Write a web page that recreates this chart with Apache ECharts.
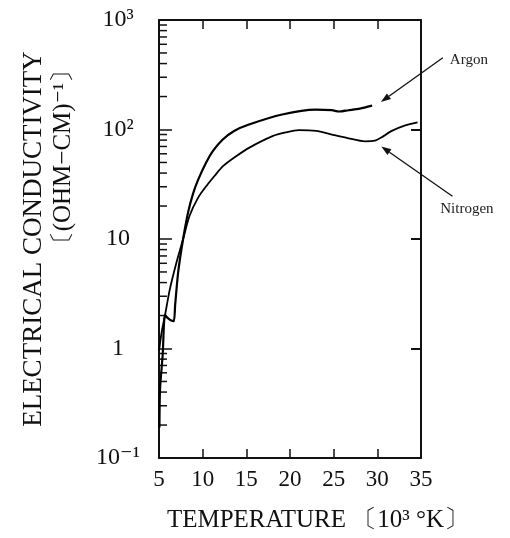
<!DOCTYPE html>
<html>
<head>
<meta charset="utf-8">
<script src="https://cdn.jsdelivr.net/npm/echarts@6/dist/echarts.min.js"></script>
<style>
  html, body { margin: 0; padding: 0; background: #fff; }
  #chart { width: 510px; height: 538px; }
</style>
</head>
<body>
<div id="chart"></div>
<script>
// values: temperature in 10^3 K, conductivity in (ohm-cm)^-1
var argonT = [5.05, 5.12, 5.42, 5.68, 6.0, 6.4, 6.7, 6.85, 7.2, 7.76, 8.33, 8.9, 9.5, 10.4, 11.2, 12.3, 13.6, 15.3, 19.1, 22.9, 24.8, 25.6, 26.7, 28.0, 29.4];
var argonSigma = [0.19, 0.43, 0.87, 2.0, 1.9, 1.8, 1.78, 2.5, 5.0, 10, 17.5, 26, 35, 50, 64, 81, 97, 111, 137, 152, 150, 146, 150, 155, 165];
var nitrogenT = [5.0, 5.3, 5.68, 6.25, 7.0, 7.76, 8.5, 9.5, 10.5, 11.4, 12.3, 13.7, 15.3, 18.0, 19.5, 21.0, 23.0, 24.8, 26.5, 28.6, 29.7, 30.5, 31.6, 33.2, 34.6];
var nitrogenSigma = [0.95, 1.4, 2.0, 3.5, 6.1, 10, 16.3, 24, 31, 38, 46, 56, 68, 87, 94, 98.6, 97, 90, 84, 78, 79, 85, 96.6, 109, 116];

// axis ticks
var xMin = 5, xMax = 35, xStep = 5;
var yDecades = [0.1, 1, 10, 100];
var yMinorFactors = [2, 3, 4, 5, 6, 7, 8, 9];
var yDecadeLabels = { '-1': '10⁻¹', '0': '1', '1': '10', '2': '10²', '3': '10³' };

// annotation anchors, in data units (arrow tail -> head)
var argonArrow = [[37.5, 452], [30.4, 178]];
var nitrogenArrow = [[38.6, 24.6], [30.45, 70]];
var argonLabelAt = [38.3, 433];
var nitrogenLabelAt = [37.2, 18.7];

var serif = "'Liberation Serif', 'DejaVu Serif', serif";

function zip(a, b) {
  return a.map(function (v, i) { return [v, b[i]]; });
}

var minorTicks = [];
yDecades.forEach(function (d) {
  yMinorFactors.forEach(function (f) { minorTicks.push([xMin, d * f]); });
});

var chart = echarts.init(document.getElementById('chart'));

var option = {
  animation: false,
  backgroundColor: '#fff',
  grid: { left: 159, right: 89, top: 20, bottom: 77 },
  xAxis: [
    {
      type: 'value', min: xMin, max: xMax, interval: xStep,
      name: 'TEMPERATURE 〔10³ °K〕',
      nameLocation: 'middle', nameGap: 50,
      nameTextStyle: { fontFamily: serif, fontSize: 25, color: '#111', padding: [0, 0, 0, 56] },
      axisLine: { lineStyle: { color: '#111', width: 2 } },
      axisTick: { inside: true, length: 9, lineStyle: { color: '#111', width: 1.5 } },
      axisLabel: { fontFamily: serif, fontSize: 23, color: '#111', margin: 10 },
      splitLine: { show: false }
    },
    {
      type: 'value', position: 'top', min: xMin, max: xMax, interval: xStep,
      axisLine: { lineStyle: { color: '#111', width: 2 } },
      axisTick: { inside: true, length: 9, lineStyle: { color: '#111', width: 1.5 } },
      axisLabel: { show: false },
      splitLine: { show: false }
    }
  ],
  yAxis: [
    {
      type: 'log', logBase: 10, min: 0.1, max: 1000,
      name: 'ELECTRICAL CONDUCTIVITY',
      nameLocation: 'middle', nameGap: 112, nameRotate: 90,
      nameTextStyle: { fontFamily: serif, fontSize: 27, color: '#111' },
      axisLine: { show: true, lineStyle: { color: '#111', width: 2 } },
      axisTick: { show: true, inside: true, length: 13, lineStyle: { color: '#111', width: 1.5 } },
      axisLabel: {
        fontFamily: serif, fontSize: 24, color: '#111', margin: 41, align: 'center',
        formatter: function (v) { return yDecadeLabels[Math.round(Math.log10(v))]; }
      },
      splitLine: { show: false }
    },
    {
      type: 'log', logBase: 10, min: 0.1, max: 1000, position: 'right',
      axisLine: { show: true, lineStyle: { color: '#111', width: 2 } },
      axisTick: { show: true, inside: true, length: 10, lineStyle: { color: '#111', width: 2 } },
      axisLabel: { show: false },
      splitLine: { show: false }
    }
  ],
  series: [
    {
      name: 'Argon', type: 'line', data: zip(argonT, argonSigma),
      symbol: 'none', smooth: 0.25,
      lineStyle: { color: '#000', width: 2.2 }
    },
    {
      name: 'Nitrogen', type: 'line', data: zip(nitrogenT, nitrogenSigma),
      symbol: 'none', smooth: 0.25,
      lineStyle: { color: '#000', width: 1.8 }
    },
    {
      name: 'minor ticks', type: 'custom', data: minorTicks, silent: true,
      renderItem: function (params, api) {
        var p = api.coord([api.value(0), api.value(1)]);
        return {
          type: 'line',
          shape: { x1: p[0], y1: p[1], x2: p[0] + 8, y2: p[1] },
          style: { stroke: '#111', lineWidth: 1.5 }
        };
      }
    }
  ]
};

chart.setOption(option);

function arrow(from, to) {
  var a = chart.convertToPixel({ gridIndex: 0 }, from);
  var b = chart.convertToPixel({ gridIndex: 0 }, to);
  var ang = Math.atan2(b[1] - a[1], b[0] - a[0]);
  var len = 10, half = 3.5;
  var bx = b[0] - len * Math.cos(ang), by = b[1] - len * Math.sin(ang);
  var nx = -Math.sin(ang) * half, ny = Math.cos(ang) * half;
  return [
    { type: 'line', shape: { x1: a[0], y1: a[1], x2: bx, y2: by }, style: { stroke: '#111', lineWidth: 1.3 } },
    { type: 'polygon', shape: { points: [[b[0], b[1]], [bx + nx, by + ny], [bx - nx, by - ny]] }, style: { fill: '#111' } }
  ];
}

function label(text, at) {
  var p = chart.convertToPixel({ gridIndex: 0 }, at);
  return {
    type: 'text', x: p[0], y: p[1],
    style: { text: text, fontFamily: serif, fontSize: 15, fill: '#222', align: 'left', verticalAlign: 'middle' }
  };
}

var graphics = []
  .concat(arrow(argonArrow[0], argonArrow[1]))
  .concat(arrow(nitrogenArrow[0], nitrogenArrow[1]))
  .concat([label('Argon', argonLabelAt), label('Nitrogen', nitrogenLabelAt)])
  .concat([{
    type: 'text', x: 63, y: 157, rotation: Math.PI / 2,
    style: { text: '〔(OHM−CM)⁻¹〕', fontFamily: serif, fontSize: 25, fill: '#111', align: 'center', verticalAlign: 'middle' }
  }]);

chart.setOption({ graphic: graphics });
</script>
</body>
</html>
